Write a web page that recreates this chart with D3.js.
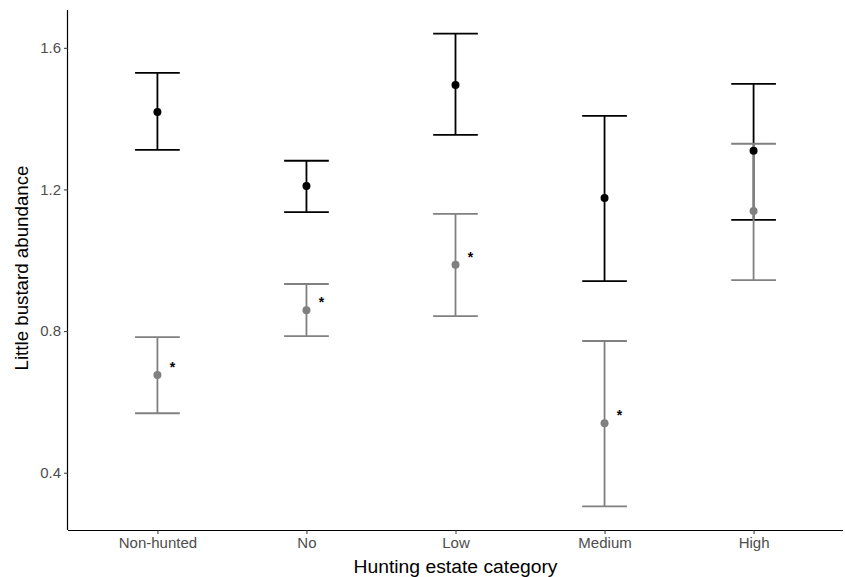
<!DOCTYPE html>
<html>
<head>
<meta charset="utf-8">
<script src="https://cdn.jsdelivr.net/npm/d3@7"></script>
<style>
  body { margin: 0; background: #fff; }
  svg { display: block; font-family: "Liberation Sans", Arial, sans-serif; }
  .tick text { fill: #4d4d4d; font-size: 15px; }
  .tick line { stroke: #333; }
  .domain { stroke: #000; stroke-width: 1.2px; }
</style>
</head>
<body>
<svg id="chart" width="845" height="577"></svg>
<script>
/* Little bustard abundance by hunting estate category.
 * Two series per category (black / grey), mean with error bars,
 * asterisk next to each grey point.
 */

const categories = ['Non-hunted', 'No', 'Low', 'Medium', 'High'];

// black series
const blackMean  = [1.419, 1.210, 1.495, 1.176, 1.309];
const blackLower = [1.312, 1.136, 1.354, 0.941, 1.114];
const blackUpper = [1.529, 1.281, 1.640, 1.408, 1.498];

// grey series
const greyMean  = [0.676, 0.859, 0.987, 0.540, 1.139];
const greyLower = [0.568, 0.786, 0.842, 0.305, 0.944];
const greyUpper = [0.783, 0.933, 1.131, 0.772, 1.329];

// asterisk shown next to grey point
const greyStar = [true, true, true, true, false];

const yTicks = [0.4, 0.8, 1.2, 1.6];

/* ---- layout ------------------------------------------------------------- */
const W = 845, H = 577;
const margin = { top: 10, right: 2, bottom: 47, left: 68 };
const innerW = W - margin.left - margin.right;
const innerH = H - margin.top - margin.bottom;

const svg = d3.select('#chart');
const g = svg.append('g').attr('transform', `translate(${margin.left},${margin.top})`);

/* ---- scales ------------------------------------------------------------- */
// ggplot-like discrete axis: 0.6 units of padding each side
const xIdx = d3.scaleLinear().domain([0.4, categories.length + 0.6]).range([0, innerW]);
const x = c => xIdx(categories.indexOf(c) + 1);

const allVals = blackLower.concat(blackUpper, greyLower, greyUpper);
const lo = d3.min(allVals), hi = d3.max(allVals);
const pad = (hi - lo) * 0.05;
const y = d3.scaleLinear().domain([lo - pad, hi + pad]).range([innerH, 0]);

/* ---- axes --------------------------------------------------------------- */
const xAxis = d3.axisBottom(d3.scalePoint().domain(categories).range([x(categories[0]), x(categories[categories.length - 1])]))
  .tickSize(4).tickPadding(3);
const gx = g.append('g').attr('transform', `translate(0,${innerH})`).call(xAxis);
gx.select('.domain').attr('d', `M0,0.5H${innerW}`);

const yAxis = d3.axisLeft(y).tickValues(yTicks).tickFormat(d3.format('.1f'))
  .tickSize(4).tickPadding(3);
const gy = g.append('g').call(yAxis);
gy.select('.domain').attr('d', `M-0.5,0V${innerH}`);

svg.append('text')
  .attr('x', margin.left + innerW / 2).attr('y', H - 4)
  .attr('text-anchor', 'middle').attr('font-size', 18).attr('fill', '#000')
  .attr('textLength', 204).attr('lengthAdjust', 'spacingAndGlyphs')
  .text('Hunting estate category');

svg.append('text')
  .attr('transform', `translate(28,${margin.top + innerH / 2 - 2}) rotate(-90)`)
  .attr('text-anchor', 'middle').attr('font-size', 18).attr('fill', '#000')
  .attr('textLength', 205).attr('lengthAdjust', 'spacingAndGlyphs')
  .text('Little bustard abundance');

/* ---- marks -------------------------------------------------------------- */
const capHalf = (xIdx(1.1) - xIdx(0.9)) / 2 * 1.5;

function series(mean, lower, upper, colour) {
  return categories.map((c, i) => ({ c, m: mean[i], lo: lower[i], hi: upper[i], colour, i }));
}
const black = series(blackMean, blackLower, blackUpper, '#000000');
const grey  = series(greyMean, greyLower, greyUpper, '#808080');

function drawErrorbars(data) {
  const eb = g.append('g');
  eb.selectAll('path').data(data).enter().append('path')
    .attr('fill', 'none')
    .attr('stroke', d => d.colour)
    .attr('stroke-width', 1.8)
    .attr('d', d => {
      const cx = x(d.c);
      return `M${cx - capHalf},${y(d.hi)}H${cx + capHalf}` +
             `M${cx},${y(d.hi)}V${y(d.lo)}` +
             `M${cx - capHalf},${y(d.lo)}H${cx + capHalf}`;
    });
}
function drawPoints(data) {
  g.append('g').selectAll('circle').data(data).enter().append('circle')
    .attr('cx', d => x(d.c)).attr('cy', d => y(d.m))
    .attr('r', 4).attr('fill', d => d.colour);
}

drawErrorbars(black);
drawErrorbars(grey);
drawPoints(black);
drawPoints(grey);

g.append('g').selectAll('text').data(grey.filter(d => greyStar[d.i])).enter().append('text')
  .attr('x', d => x(d.c) + 15).attr('y', d => y(d.m) - 3)
  .attr('text-anchor', 'middle').attr('font-size', 14).attr('font-weight', 'bold')
  .attr('fill', '#000')
  .text('*');
</script>
</body>
</html>
